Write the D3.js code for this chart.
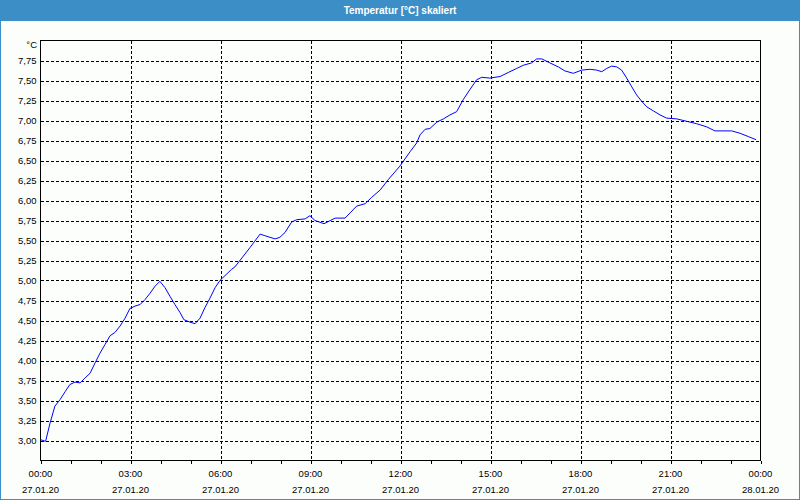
<!DOCTYPE html>
<html>
<head>
<meta charset="utf-8">
<script src="https://cdn.jsdelivr.net/npm/d3@7"></script>
<style>
  body { margin: 0; background: #fcfefc; }
  svg { display: block; }
  text { font-family: "Liberation Sans", Arial, sans-serif; }
</style>
</head>
<body>
<div class="graph"></div>
<script>
// data: hours after 27.01.20 00:00 and temperature in °C
const hours = [0.0, 0.17, 0.32, 0.48, 0.65, 0.82, 0.98, 1.15, 1.32, 1.48, 1.65, 1.82, 1.98, 2.15, 2.32, 2.48,
  2.65, 2.82, 2.98, 3.15, 3.32, 3.48, 3.65, 3.82, 3.98, 4.15, 4.32, 4.48, 4.65, 4.78, 4.98, 5.15, 5.32,
  5.48, 5.65, 5.82, 5.98, 6.37, 6.48, 6.98, 7.32, 7.48, 7.82, 7.98, 8.15, 8.37, 8.54, 8.82, 8.98, 9.15,
  9.45, 9.82, 10.15, 10.54, 10.82, 11.04, 11.32, 11.59, 11.98, 12.32, 12.54, 12.65, 12.82, 12.98, 13.21,
  13.43, 13.65, 13.87, 14.09, 14.32, 14.54, 14.71, 14.98, 15.32, 15.59, 15.87, 16.09, 16.37, 16.54, 16.71,
  16.98, 17.26, 17.48, 17.76, 18.04, 18.32, 18.54, 18.71, 18.87, 19.04, 19.21, 19.37, 19.54, 19.71, 19.87,
  20.04, 20.21, 20.43, 20.65, 20.87, 21.21, 21.54, 21.87, 22.21, 22.48, 23.04, 23.32, 23.59, 23.85];
const temps = [3.01, 2.99, 3.22, 3.43, 3.51, 3.61, 3.70, 3.73, 3.72, 3.78, 3.84, 3.97, 4.09, 4.20, 4.31, 4.35,
  4.43, 4.53, 4.65, 4.68, 4.70, 4.76, 4.84, 4.93, 4.99, 4.91, 4.80, 4.70, 4.60, 4.51, 4.48, 4.46, 4.53,
  4.66, 4.78, 4.91, 5.00, 5.14, 5.17, 5.41, 5.58, 5.56, 5.52, 5.54, 5.60, 5.73, 5.76, 5.77, 5.81, 5.75,
  5.71, 5.78, 5.78, 5.93, 5.96, 6.04, 6.13, 6.26, 6.43, 6.61, 6.72, 6.82, 6.89, 6.90, 6.98,
  7.02, 7.07, 7.11, 7.26, 7.39, 7.51, 7.54, 7.53, 7.55, 7.60, 7.65, 7.69, 7.72, 7.77, 7.77,
  7.72, 7.67, 7.62, 7.59, 7.63, 7.64, 7.63, 7.61, 7.65, 7.68, 7.67, 7.63, 7.53, 7.42, 7.32,
  7.24, 7.17, 7.12, 7.07, 7.03, 7.02, 6.99, 6.96, 6.92, 6.87, 6.87, 6.84, 6.80, 6.76];
const yTicks = [3.00, 3.25, 3.50, 3.75, 4.00, 4.25, 4.50, 4.75, 5.00, 5.25, 5.50, 5.75, 6.00, 6.25,
  6.50, 6.75, 7.00, 7.25, 7.50, 7.75];
const title = "Temperatur [°C] skaliert";
const unit = "°C";

const SIZE = {X: 800, Y: 500};
const PLOT = {LEFT: 40.5, TOP: 40.5, RIGHT: 760.5, BOTTOM: 460.5};

const start = new Date(2020, 0, 27, 0, 0);
const end = new Date(2020, 0, 28, 0, 0);
const data = hours.map((h, i) => ({date: new Date(start.getTime() + h * 3600000), temp: temps[i]}));

const svg = d3.select(".graph").append("svg")
    .attr("width", SIZE.X)
    .attr("height", SIZE.Y);

// background, window frame and title bar
svg.append("rect").attr("width", SIZE.X).attr("height", SIZE.Y).attr("fill", "#fcfefc");
svg.append("rect").attr("x", 0.5).attr("y", 0.5).attr("width", SIZE.X - 1).attr("height", SIZE.Y - 1)
    .attr("fill", "none").attr("stroke", "#3c8fc6");
svg.append("rect").attr("width", SIZE.X).attr("height", 21).attr("fill", "#3c8fc6");
svg.append("text")
    .attr("x", SIZE.X / 2).attr("y", 14)
    .attr("text-anchor", "middle")
    .attr("fill", "#fff")
    .style("font-weight", "bold")
    .style("font-size", "10px")
    .text(title);

//scales
const x = d3.scaleTime().domain([start, end]).range([PLOT.LEFT, PLOT.RIGHT]);
const y = d3.scaleLinear().domain([2.75, 8.0]).range([PLOT.BOTTOM, PLOT.TOP]);

const fmtNum = d => d3.format(".2f")(d).replace(".", ",");
const majorTicks = d3.timeHour.every(3).range(start, d3.timeMinute.offset(end, 1));
const minorTicks = d3.timeHour.every(1).range(start, d3.timeMinute.offset(end, 1));

const grid = svg.append("g").attr("shape-rendering", "crispEdges");

// horizontal grid
grid.selectAll(".hgrid").data(yTicks).enter().append("line")
    .attr("x1", PLOT.LEFT).attr("x2", PLOT.RIGHT)
    .attr("y1", d => Math.round(y(d)) + 0.5).attr("y2", d => Math.round(y(d)) + 0.5)
    .attr("stroke", "#000").attr("stroke-dasharray", "3,2");

// vertical grid
grid.selectAll(".vgrid").data(majorTicks.slice(1, -1)).enter().append("line")
    .attr("y1", PLOT.TOP).attr("y2", PLOT.BOTTOM)
    .attr("x1", d => Math.round(x(d)) + 0.5).attr("x2", d => Math.round(x(d)) + 0.5)
    .attr("stroke", "#000").attr("stroke-dasharray", "3,2");

// y axis
const yAxis = svg.append("g")
    .attr("transform", `translate(${PLOT.LEFT},0)`)
    .call(d3.axisLeft(y).tickValues(yTicks).tickFormat(fmtNum).tickSize(0).tickPadding(4));
yAxis.select(".domain").remove();
yAxis.selectAll("text").style("font-family", "Liberation Sans").style("font-size", "9.5px").attr("fill", "#000");

svg.append("text")
    .attr("x", 37).attr("y", 48)
    .attr("text-anchor", "end")
    .style("font-size", "9.5px")
    .text(unit);

// x axis: hourly ticks, labels every 3 h
const xAxis = svg.append("g")
    .attr("transform", `translate(0,${PLOT.BOTTOM})`)
    .call(d3.axisBottom(x).tickValues(minorTicks).tickSize(3).tickFormat(""));
xAxis.select(".domain").remove();
xAxis.selectAll("line").attr("stroke", "#000").attr("shape-rendering", "crispEdges");

const xLabels = svg.append("g").selectAll("g").data(majorTicks).enter().append("g")
    .attr("transform", d => `translate(${x(d)},0)`);
xLabels.append("text")
    .attr("y", 477).attr("text-anchor", "middle").style("font-size", "9.5px")
    .text(d3.timeFormat("%H:%M"));
xLabels.append("text")
    .attr("y", 493).attr("text-anchor", "middle").style("font-size", "9.5px")
    .text(d3.timeFormat("%d.%m.%y"));

// plot frame
svg.append("rect")
    .attr("x", PLOT.LEFT).attr("y", PLOT.TOP)
    .attr("width", PLOT.RIGHT - PLOT.LEFT).attr("height", PLOT.BOTTOM - PLOT.TOP)
    .attr("fill", "none").attr("stroke", "#000").attr("stroke-width", 1.5)
    .attr("shape-rendering", "crispEdges");

// temperature line
const line = d3.line().x(d => x(d.date)).y(d => y(d.temp));
svg.append("path")
    .datum(data)
    .attr("d", line)
    .attr("fill", "none")
    .attr("stroke", "#0000ff")
    .attr("stroke-width", 1);
</script>
</body>
</html>
